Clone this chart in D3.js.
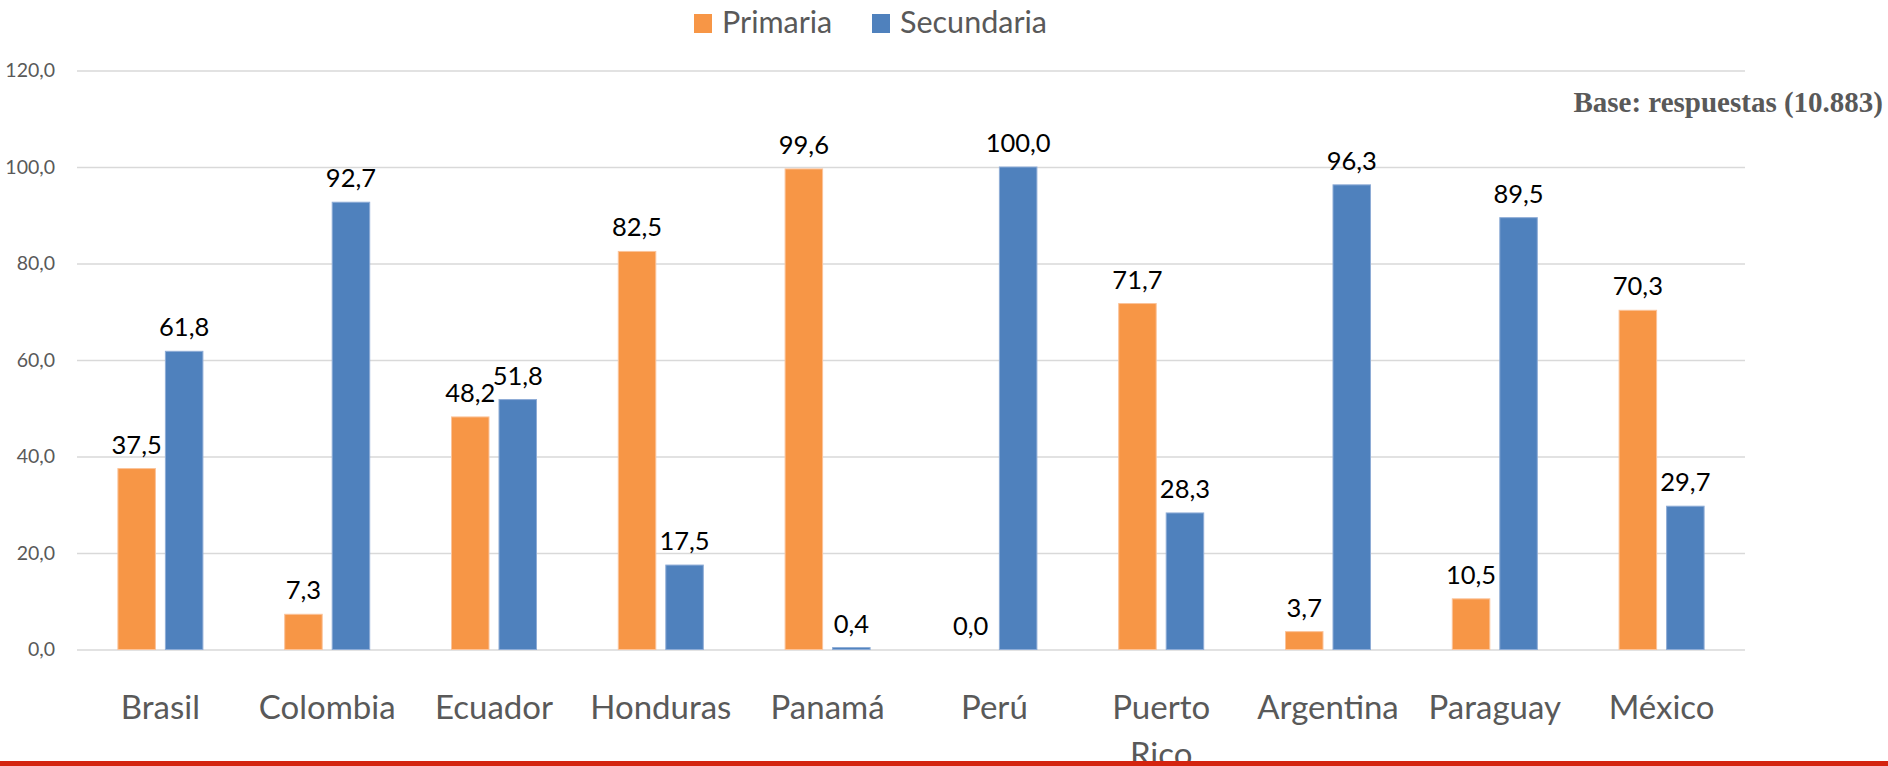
<!DOCTYPE html>
<html>
<head>
<meta charset="utf-8">
<script src="https://cdn.jsdelivr.net/npm/d3@7"></script>
<style>
  body { margin: 0; background: #fff; }
  svg { display: block; }
  .tick text { font-family: Lato, sans-serif; }
</style>
</head>
<body>
<div id="chart"></div>
<script>
// data
var countries = ["Brasil", "Colombia", "Ecuador", "Honduras", "Panamá", "Perú", "Puerto Rico", "Argentina", "Paraguay", "México"];
var seriesNames = ["Primaria", "Secundaria"];
var primaria = [37.5, 7.3, 48.2, 82.5, 99.6, 0.0, 71.7, 3.7, 10.5, 70.3];
var secundaria = [61.8, 92.7, 51.8, 17.5, 0.4, 100.0, 28.3, 96.3, 89.5, 29.7];
var yTicks = [0, 20, 40, 60, 80, 100, 120];
var baseNote = "Base: respuestas (10.883)";

(function(){
	var width = 1888,
	height = 766;

	var colors = { "Primaria": "#f79646", "Secundaria": "#4f81bd" }
	var strokes = { "Primaria": "#fbc39a", "Secundaria": "#8eacd6" }

	var svg = d3.select("#chart")
		.append("svg")
		.attr("width", width)
		.attr("height", height)

	var left = 77, right = 1745, top = 70.5, bottom = 649.5;

	var x0 = d3.scaleBand()
		.domain(countries)
		.range([left, right])
		.padding(0)

	var x1 = d3.scaleBand()
		.domain(seriesNames)
		.range([-42.5, 42.5])
		.paddingInner(0.2105)

	var y = d3.scaleLinear()
		.domain([0, 120])
		.range([bottom, top])

	var fmt = function(v){ return d3.format(".1f")(v).replace(".", ","); }

	// gridlines + y labels
	var yAxis = d3.axisLeft(y)
		.tickValues(yTicks)
		.tickSize(-(right - left))
		.tickPadding(22)
		.tickFormat(fmt)

	var gy = svg.append("g")
		.attr("transform", "translate(" + left + ",0)")
		.call(yAxis)
	gy.select(".domain").remove()
	gy.selectAll(".tick line")
		.attr("stroke", "#d9d9d9")
		.attr("stroke-width", 1.5)
	gy.selectAll(".tick text")
		.attr("fill", "#595959")
		.style("font-size", "19.5px")

	var rows = countries.map(function(c, i){
		return { country: c, values: [
			{ key: "Primaria", value: primaria[i] },
			{ key: "Secundaria", value: secundaria[i] }
		]}
	})

	var groups = svg.selectAll(".grp")
		.data(rows)
		.enter().append("g")
		.attr("class", "grp")
		.attr("transform", function(d){ return "translate(" + (x0(d.country) + x0.bandwidth()/2) + ",0)"; })

	groups.selectAll("rect")
		.data(function(d){ return d.values; })
		.enter().append("rect")
		.attr("x", function(d){ return x1(d.key); })
		.attr("width", x1.bandwidth())
		.attr("y", function(d){ return y(d.value); })
		.attr("height", function(d){ return y(0) - y(d.value); })
		.attr("fill", function(d){ return colors[d.key]; })
		.attr("stroke", function(d){ return d.value > 0 ? strokes[d.key] : "none"; })
		.attr("stroke-width", 1)

	groups.selectAll(".lbl")
		.data(function(d){ return d.values; })
		.enter().append("text")
		.attr("class", "lbl")
		.attr("x", function(d){ return x1(d.key) + x1.bandwidth()/2; })
		.attr("y", function(d){ return y(d.value) - 15; })
		.attr("text-anchor", "middle")
		.style("font-family", "Lato, sans-serif")
		.style("font-size", "25.5px")
		.attr("fill", "#000")
		.text(function(d){ return fmt(d.value); })

	// category labels (wrapped like the original)
	var catLabels = svg.selectAll(".cat")
		.data(countries)
		.enter().append("text")
		.attr("class", "cat")
		.attr("x", function(d){ return x0(d) + x0.bandwidth()/2; })
		.attr("y", 719)
		.attr("text-anchor", "middle")
		.style("font-family", "Lato, sans-serif")
		.style("font-size", "33px")
		.attr("fill", "#595959")

	catLabels.each(function(d){
		var words = x0.bandwidth() < d.length * 17 ? d.split(" ") : [d];
		var t = d3.select(this);
		words.forEach(function(w, i){
			t.append("tspan")
				.attr("x", t.attr("x"))
				.attr("dy", i === 0 ? 0 : 47)
				.text(w)
		})
	})

	// legend
	var legend = svg.append("g")
	var lx = [694, 872];
	seriesNames.forEach(function(s, i){
		legend.append("rect")
			.attr("x", lx[i])
			.attr("y", 14)
			.attr("width", 18)
			.attr("height", 19)
			.attr("fill", colors[s])
		legend.append("text")
			.attr("x", lx[i] + 28)
			.attr("y", 33)
			.style("font-family", "Lato, sans-serif")
			.style("font-size", "30.5px")
			.attr("fill", "#595959")
			.text(s)
	})

	svg.append("text")
		.attr("x", 1883)
		.attr("y", 112)
		.attr("text-anchor", "end")
		.style("font-family", "'Liberation Serif', serif")
		.style("font-weight", "bold")
		.style("font-size", "29px")
		.attr("fill", "#595959")
		.text(baseNote)

	// red band at the bottom
	svg.append("rect")
		.attr("x", 0)
		.attr("y", 761)
		.attr("width", width)
		.attr("height", height - 761)
		.attr("fill", "#d4240f")
})();
</script>
</body>
</html>
